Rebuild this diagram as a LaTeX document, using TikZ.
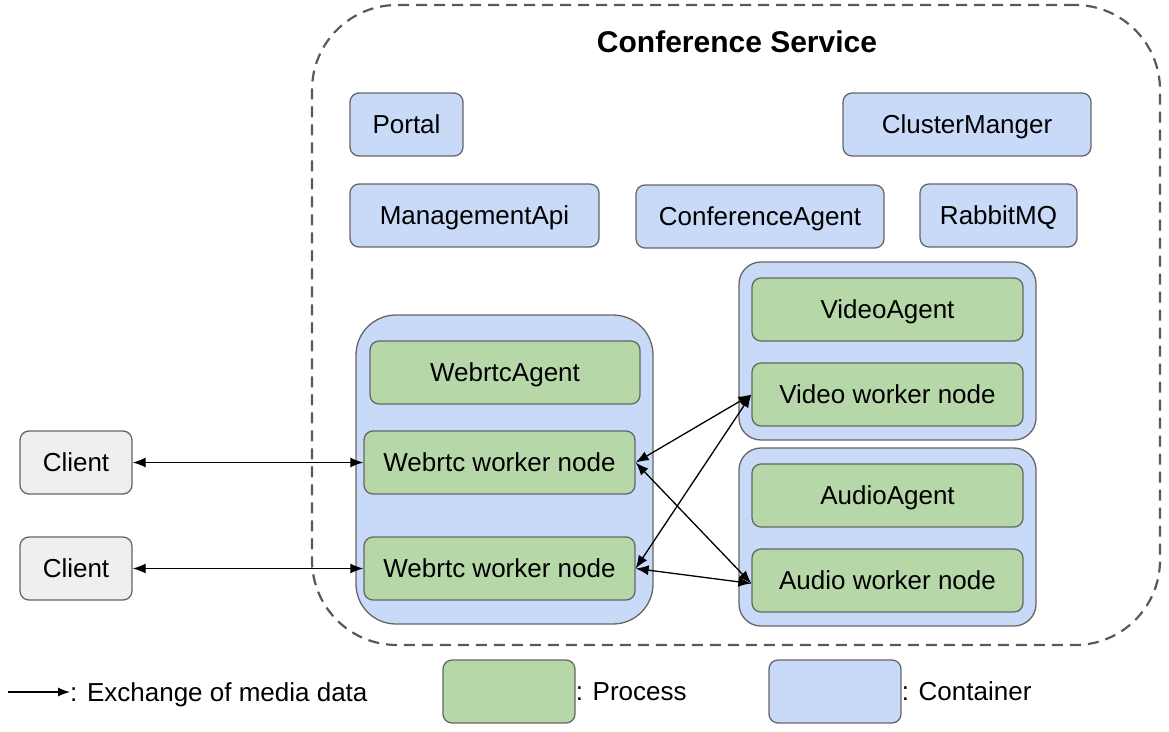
\documentclass[tikz,border=0pt]{standalone}
\usepackage{fontspec}
\setmainfont{Liberation Sans}
\usetikzlibrary{arrows.meta}
\definecolor{cblue}{HTML}{C9DAF8}
\definecolor{cgreen}{HTML}{B6D7A8}
\definecolor{cgray}{HTML}{EFEFEF}
\definecolor{cborder}{HTML}{666666}
\definecolor{cdash}{HTML}{595959}
\tikzset{
  base/.style={draw=cborder, line width=1.3pt, rounded corners=9pt, inner sep=0pt, minimum height=63pt, text height=18.5pt, text depth=0pt, font=\fontsize{26}{30}\selectfont},
  cont/.style={base, fill=cblue},
  proc/.style={base, fill=cgreen},
  client/.style={base, fill=cgray},
  bigcont/.style={draw=cborder, line width=1.3pt, fill=cblue, inner sep=0pt},
  media/.style={{Latex[length=13pt,width=10pt]}-{Latex[length=13pt,width=10pt]}, line width=1.3pt, black},
  lbl/.style={inner sep=0pt, text height=18.5pt, text depth=0pt, font=\fontsize{26}{30}\selectfont},
}
\begin{document}
\begin{tikzpicture}[x=1pt,y=-1pt]
\useasboundingbox (0,0) rectangle (1169,731);
% outer dashed service
\node[draw=cdash, line width=2.2pt, dash pattern=on 11pt off 7pt, rounded corners=85pt, minimum width=848pt, minimum height=640pt, inner sep=0pt] (svc) at (736,325) {};
\node[lbl, text height=21.5pt, font=\fontsize{30}{34}\selectfont\bfseries] (title) at (737,42) {Conference Service};
% top row containers
\node[cont, minimum width=113pt] (portal) at (406.5,124.5) {Portal};
\node[cont, minimum width=248pt] (cm) at (967,124.5) {ClusterManger};
\node[cont, minimum width=249pt] (mapi) at (474.5,215.5) {ManagementApi};
\node[cont, minimum width=248pt] (cagent) at (760,216.5) {ConferenceAgent};
\node[cont, minimum width=157pt] (rmq) at (998.5,215.5) {RabbitMQ};
% webrtc container
\node[bigcont, rounded corners=40pt, minimum width=297pt, minimum height=309pt] (wc) at (504.5,469.5) {};
\node[proc, minimum width=270pt] (wagent) at (505,372.5) {WebrtcAgent};
\node[proc, minimum width=271pt] (w1) at (499.5,462.5) {Webrtc worker node};
\node[proc, minimum width=271pt] (w2) at (499.5,568.5) {Webrtc worker node};
% video container
\node[bigcont, rounded corners=22pt, minimum width=297pt, minimum height=178pt] (vc) at (887.5,351) {};
\node[proc, minimum width=271pt] (vagent) at (887.5,309.5) {VideoAgent};
\node[proc, minimum width=271pt] (vw) at (887.5,394.5) {Video worker node};
% audio container
\node[bigcont, rounded corners=22pt, minimum width=297pt, minimum height=178pt] (ac) at (887.5,537) {};
\node[proc, minimum width=271pt] (aagent) at (887.5,495.5) {AudioAgent};
\node[proc, minimum width=271pt] (aw) at (887.5,580.5) {Audio worker node};
% clients
\node[client, minimum width=112pt] (c1) at (76,462.5) {Client};
\node[client, minimum width=112pt] (c2) at (76,568.5) {Client};
% connectors
\draw[media] (c1.east) -- (w1.west);
\draw[media] (c2.east) -- (w2.west);
\draw[media] (w1.east) -- (vw.west);
\draw[media] (w1.east) -- ([yshift=-3pt]aw.west);
\draw[media] (w2.east) -- (vw.west);
\draw[media] (w2.east) -- ([yshift=-3pt]aw.west);
% legend
\coordinate (la) at (8,692);
\node[lbl, anchor=west] (ltext) at (70,692) {: Exchange of media data};
\draw[-{Latex[length=12pt,width=9pt]}, line width=1.3pt] (la) -- (ltext.west);
\node[proc, minimum width=132pt] (lgreen) at (509,691.5) {};
\node[lbl, anchor=west] (lproc) at (lgreen.east) {: Process};
\node[cont, minimum width=132pt] (lblue) at (835,691.5) {};
\node[lbl, anchor=west] (lcont) at (lblue.east) {: Container};
\end{tikzpicture}
\end{document}
